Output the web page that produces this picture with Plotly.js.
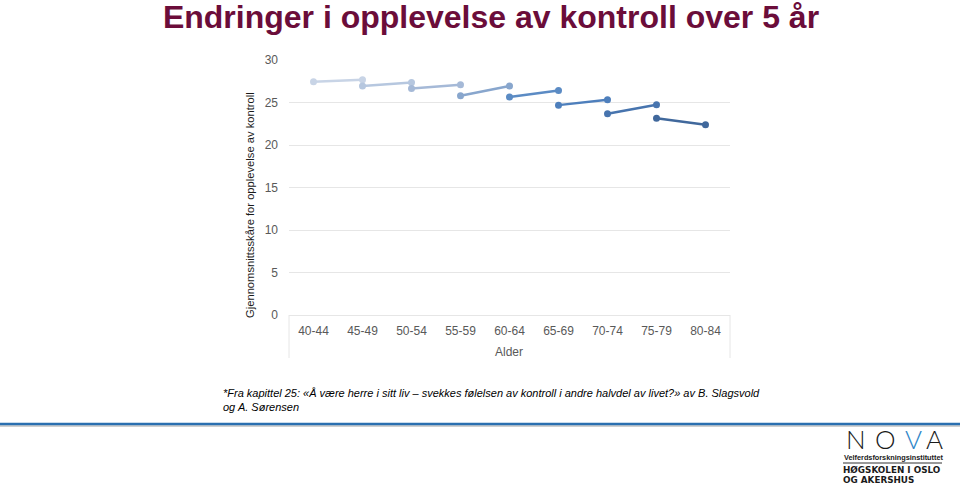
<!DOCTYPE html>
<html>
<head>
<meta charset="utf-8">
<script src="https://cdn.plot.ly/plotly-3.0.1.min.js"></script>
<style>
html,body{margin:0;padding:0;background:#fff;}
#chart{width:960px;height:486px;}
</style>
</head>
<body>
<div id="chart"></div>
<script>
// Data
const categories = ["40-44","45-49","50-54","55-59","60-64","65-69","70-74","75-79","80-84"];
// Each cohort: score at start age group and 5 years later
const cohortStart = [27.44, 26.93, 26.65, 25.79, 25.64, 24.69, 23.67, 23.16];
const cohortEnd   = [27.68, 27.36, 27.09, 26.93, 26.42, 25.32, 24.73, 22.37];
const cohortColors = ["#c8d4e6","#b6c7df","#a5b9d7","#88a6cd","#5b8bc4","#4e7fbc","#4774ae","#40689c"];
const yTicks = [0,5,10,15,20,25,30];

// plot area pixel geometry helpers
const L = 289, R = 730, T = 60, B = 315;
const px = x => (x - L) / (R - L);
const py = y => (B - y) / (B - T);

const traces = cohortStart.map((v, i) => ({
  type: 'scatter',
  mode: 'lines+markers',
  x: [categories[i], categories[i+1]],
  y: [v, cohortEnd[i]],
  line: {color: cohortColors[i], width: 2.5},
  marker: {color: cohortColors[i], size: 7},
  hoverinfo: 'x+y',
  showlegend: false
}));

const F = "Liberation Sans, Arial, sans-serif";
const logoFont = {family: "Lato, sans-serif", size: 26, color: '#1a1a1a', weight: 300};
const annotations = [
  {text: "Gjennomsnittsskåre for opplevelse av kontroll", xref: 'paper', yref: 'paper', x: px(250), y: py(205),
   textangle: -90, showarrow: false, xanchor: 'center', yanchor: 'middle',
   font: {family: F, size: 11.2, color: '#1a1a1a'}},
  {text: "Alder", xref: 'paper', yref: 'paper', x: px(509), y: py(352), showarrow: false,
   font: {family: F, size: 12, color: '#595959'}, xanchor: 'center', yanchor: 'middle'},
  {text: "<i>*Fra kapittel 25: «Å være herre i sitt liv – svekkes følelsen av kontroll i andre halvdel av livet?» av B. Slagsvold</i>",
   xref: 'paper', yref: 'paper', x: px(221), y: py(393), showarrow: false, xanchor: 'left', yanchor: 'middle',
   font: {family: F, size: 11, color: '#000'}},
  {text: "<i>og A. Sørensen</i>",
   xref: 'paper', yref: 'paper', x: px(221), y: py(407), showarrow: false, xanchor: 'left', yanchor: 'middle',
   font: {family: F, size: 11, color: '#000'}},
  // logo
  {text: "N", xref: 'paper', yref: 'paper', x: px(856), y: py(439), showarrow: false, xanchor: 'center', yanchor: 'middle', font: logoFont},
  {text: "O", xref: 'paper', yref: 'paper', x: px(885), y: py(439), showarrow: false, xanchor: 'center', yanchor: 'middle', font: logoFont},
  {text: "V", xref: 'paper', yref: 'paper', x: px(913), y: py(439), showarrow: false, xanchor: 'center', yanchor: 'middle',
   font: Object.assign({}, logoFont, {color: '#2f86c8'})},
  {text: "A", xref: 'paper', yref: 'paper', x: px(934), y: py(439), showarrow: false, xanchor: 'center', yanchor: 'middle', font: logoFont},
  {text: "<b>Velferdsforskningsinstituttet</b>", xref: 'paper', yref: 'paper', x: px(842), y: py(457), showarrow: false, xanchor: 'left', yanchor: 'middle',
   font: {family: F, size: 7.3, color: '#1a1a1a'}},
  {text: "<b>HØGSKOLEN I OSLO</b>", xref: 'paper', yref: 'paper', x: px(841), y: py(470), showarrow: false, xanchor: 'left', yanchor: 'middle',
   font: {family: "DejaVu Sans, sans-serif", size: 8.8, color: '#1a1a1a'}},
  {text: "<b>OG AKERSHUS</b>", xref: 'paper', yref: 'paper', x: px(841), y: py(480), showarrow: false, xanchor: 'left', yanchor: 'middle',
   font: {family: "DejaVu Sans, sans-serif", size: 8.8, color: '#1a1a1a'}}
];

const shapes = [
  // frame below axis
  {type: 'line', xref: 'paper', yref: 'paper', x0: 0, x1: 0, y0: 0, y1: py(358), line: {color: '#e6e6e6', width: 1}},
  {type: 'line', xref: 'paper', yref: 'paper', x0: 1, x1: 1, y0: 0, y1: py(358), line: {color: '#e6e6e6', width: 1}},
  // bottom decorative rule
  {type: 'line', xref: 'paper', yref: 'paper', x0: px(0), x1: px(960), y0: py(426), y1: py(426), line: {color: '#d0d0d0', width: 2}},
  {type: 'line', xref: 'paper', yref: 'paper', x0: px(0), x1: px(960), y0: py(424), y1: py(424), line: {color: '#2a6fb0', width: 2.5}},
  // logo divider
  {type: 'line', xref: 'paper', yref: 'paper', x0: px(843), x1: px(942), y0: py(463), y1: py(463), line: {color: '#333', width: 1}}
];

const layout = {
  width: 960, height: 486,
  margin: {l: L, r: 960 - R, t: T, b: 486 - B, pad: 0},
  paper_bgcolor: '#fff', plot_bgcolor: '#fff',
  title: {text: "<b>Endringer i opplevelse av kontroll over 5 år</b>", x: 491/960, xanchor: 'center', xref: 'container',
          y: 1 - 17/486, yref: 'container', yanchor: 'middle',
          font: {family: F, size: 32, color: '#6b0d3a'}},
  xaxis: {type: 'category', categoryorder: 'array', categoryarray: categories, range: [-0.5, 8.5],
          showgrid: false, zeroline: false, showline: true, linecolor: '#e6e6e6', linewidth: 1,
          ticks: '', ticklabelstandoff: 5,
          tickfont: {family: F, size: 12, color: '#595959'}, fixedrange: true},
  yaxis: {range: [0, 30], tickvals: yTicks, showgrid: true, gridcolor: '#e6e6e6', gridwidth: 1,
          zeroline: false, showline: false, ticks: '', ticklabelstandoff: 10,
          tickfont: {family: F, size: 12, color: '#595959'}, fixedrange: true},
  annotations: annotations,
  shapes: shapes,
  showlegend: false
};

Plotly.newPlot('chart', traces, layout, {displayModeBar: false, staticPlot: true});
</script>
</body>
</html>
